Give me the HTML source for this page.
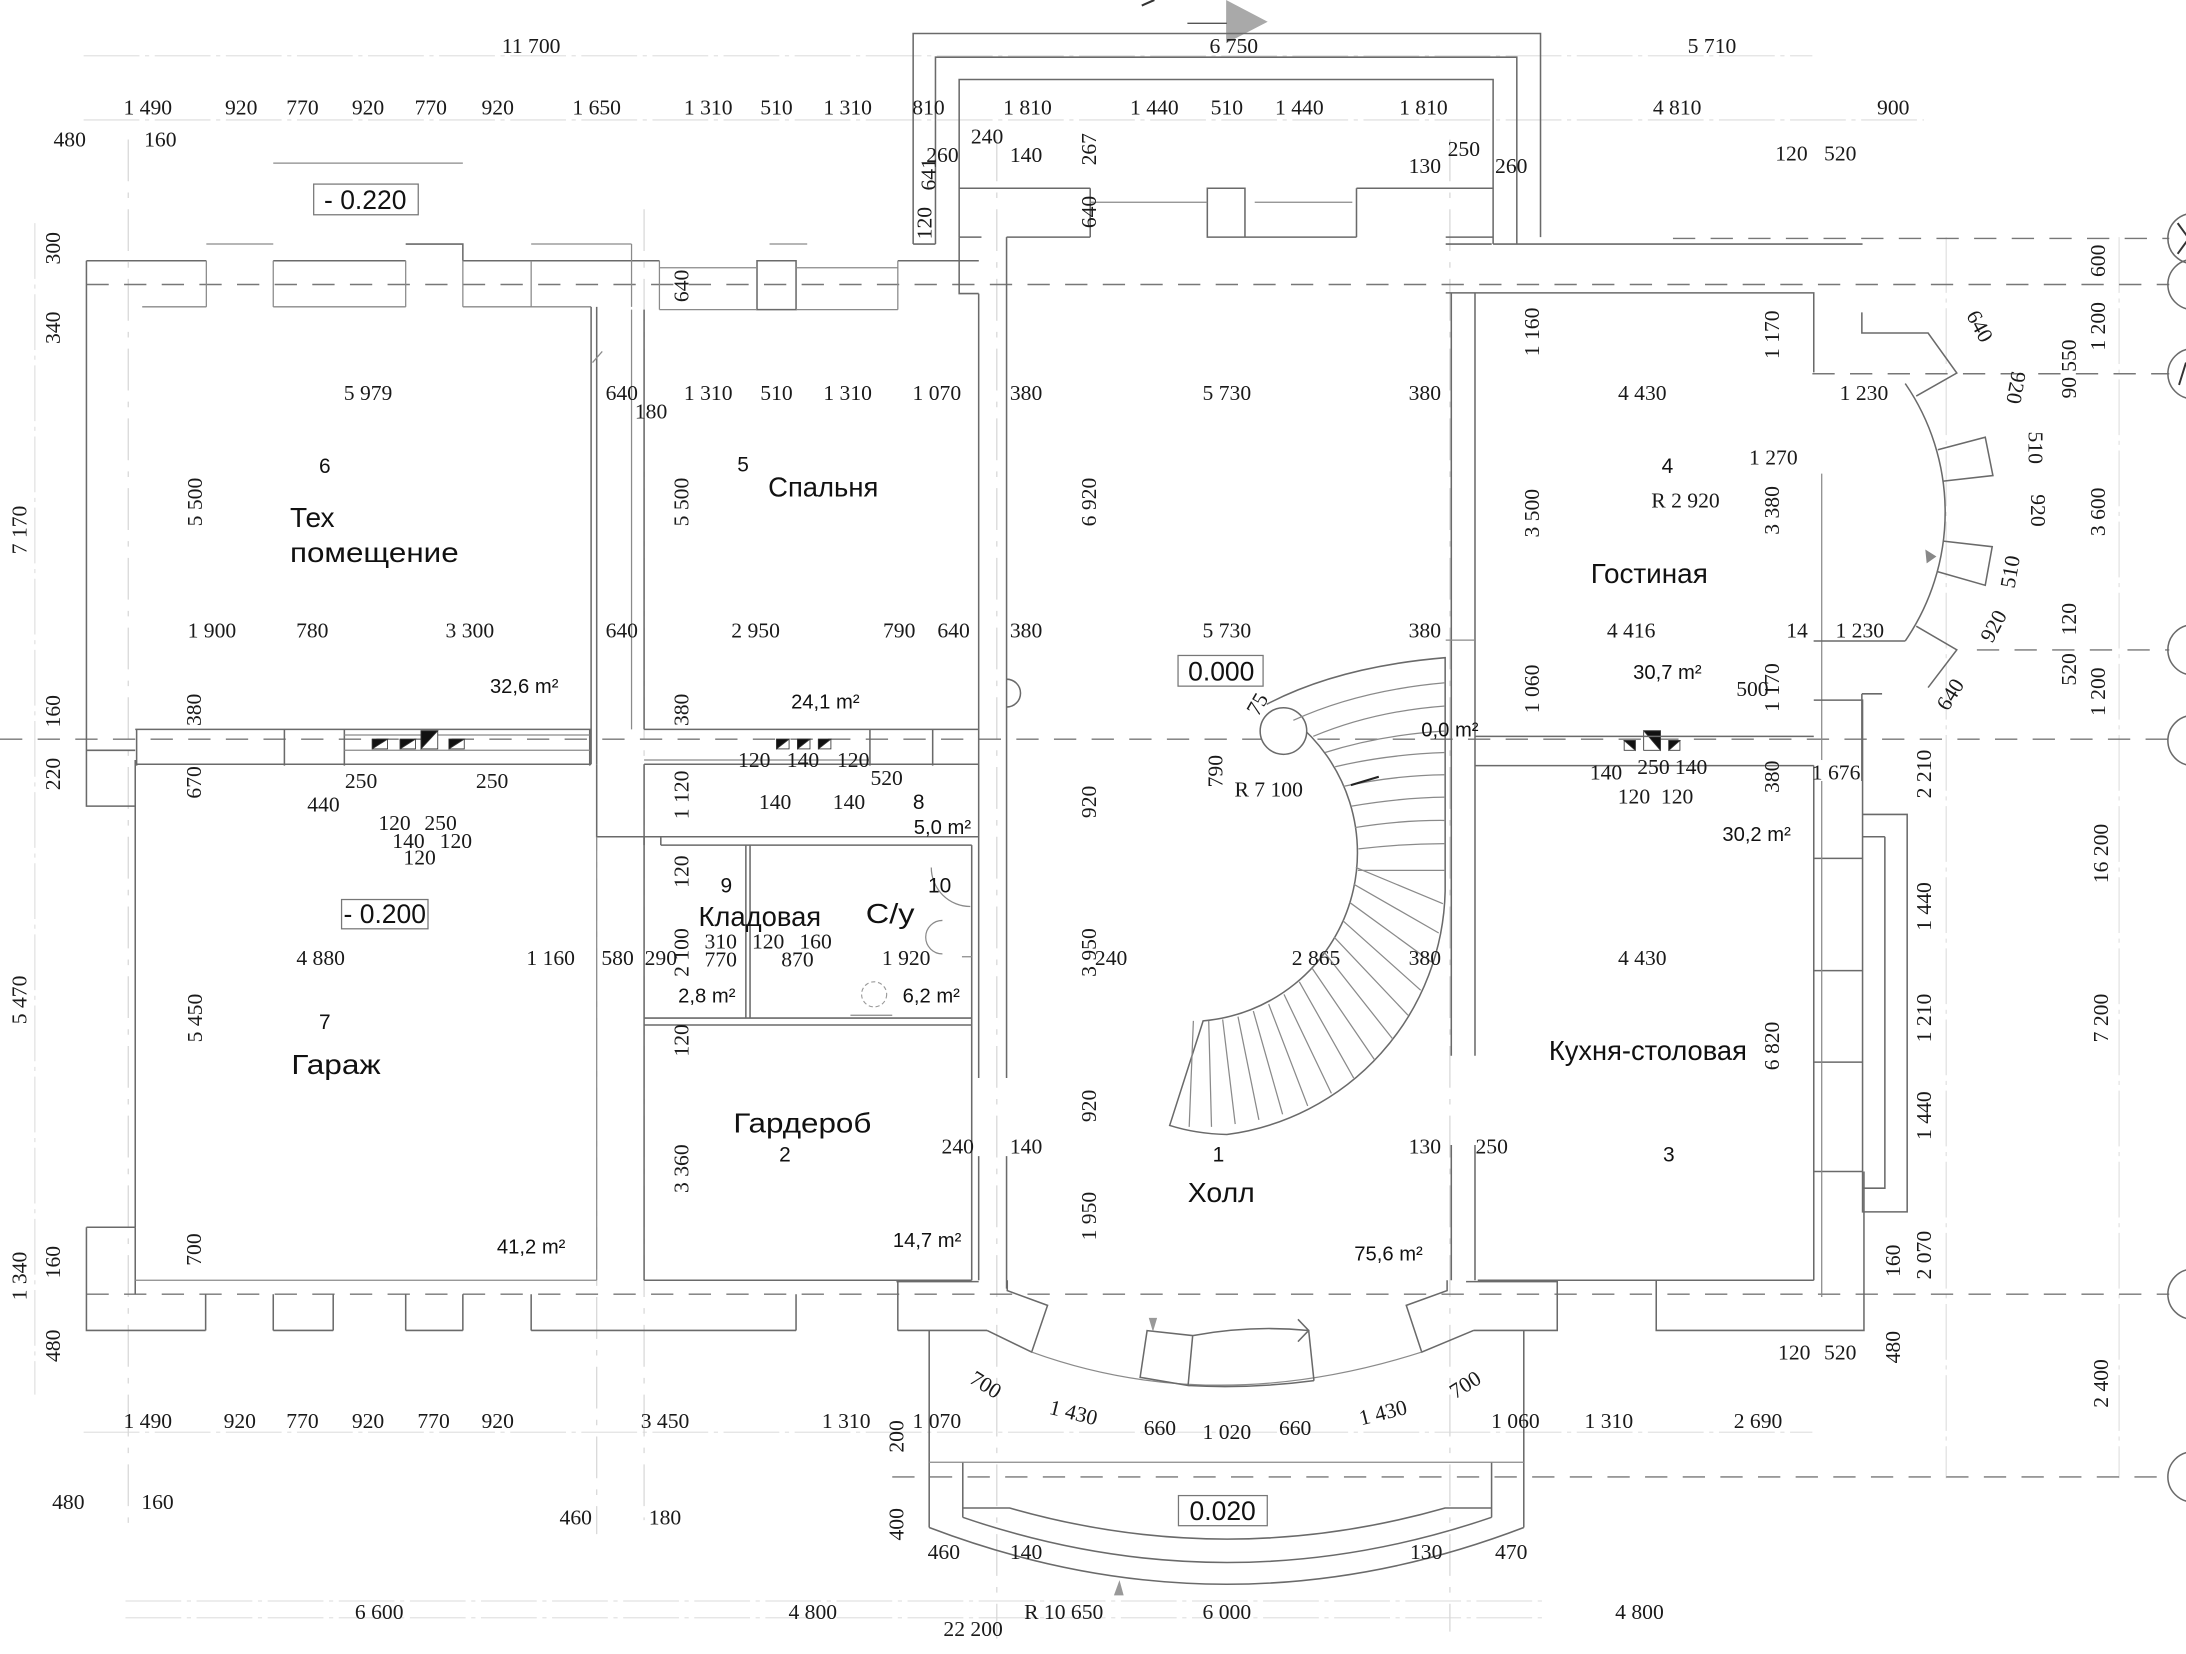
<!DOCTYPE html>
<html><head><meta charset="utf-8"><style>
html,body{margin:0;padding:0;background:#fff}
svg{display:block}
.d{font-family:"Liberation Serif",serif;font-size:15.5px;fill:#1a1a1a;text-anchor:middle}
.r{font-family:"Liberation Sans",sans-serif;font-size:20px;fill:#111}
.a{font-family:"Liberation Sans",sans-serif;font-size:14.5px;fill:#111;text-anchor:middle}
.n{font-family:"Liberation Sans",sans-serif;font-size:15px;fill:#111;text-anchor:middle}
.lv{font-family:"Liberation Sans",sans-serif;font-size:19px;fill:#111;text-anchor:middle}
.w{fill:none;stroke:#6a6a6a;stroke-width:1.1}
.t{fill:none;stroke:#8a8a8a;stroke-width:0.9}
.f{fill:none;stroke:#e2e2e2;stroke-width:0.9;stroke-dasharray:40 4 3 4}
.ax{fill:none;stroke:#777;stroke-width:1;stroke-dasharray:16 11}
.ax2{fill:none;stroke:#d8d8d8;stroke-width:0.9;stroke-dasharray:30 8 4 8}
</style></head><body>
<svg width="2186" height="1654" viewBox="0 0 1568 1186" preserveAspectRatio="none" xmlns="http://www.w3.org/2000/svg">
<rect width="1568" height="1186" fill="#fff"/>

<!-- faint dimension lines -->
<path class="f" d="M60 40H1300M60 86H1380M60 1027H1300M90 1160H1110M25 160V1000M1520 170V1060M1396 170V1060"/>
<!-- faint vertical axes -->
<path class="ax2" d="M92 100V1100M715 100V1175M1040 100V1170M462 150V1090M428 280V1100"/>

<!-- axis dashed lines -->
<path class="ax" d="M1200 171H1556M62 204H1556M1300 268H1556M1418 466H1556M0 530H1556M62 928H1556M640 1059H1556"/>
<path class="f" d="M90 1148H1110"/>

<!-- right edge circles -->
<g class="w">
<circle cx="1573" cy="171" r="18"/><circle cx="1573" cy="204" r="18"/><circle cx="1573" cy="268" r="18"/>
<circle cx="1573" cy="466" r="18"/><circle cx="1573" cy="531" r="18"/><circle cx="1573" cy="928" r="18"/><circle cx="1573" cy="1059" r="18"/>
</g>
<path d="M1562 160L1570 171L1562 182M1563 276L1568 260" stroke="#333" stroke-width="1.4" fill="none"/>

<!-- top arrow -->
<polygon points="879.5,0 909.3,15.6 879.5,31" fill="#a9a9a9"/>
<path d="M851.7 16.7H880" stroke="#555" stroke-width="1"/>
<path d="M819 4L828 0" stroke="#333" stroke-width="1.5"/>

<!-- TOP PORCH -->
<path class="w" d="M655 175V24H1105V170M671 175V41H1088V175M688 170V57H1071V175M655 175H671"/>
<path class="w" d="M688 135H782M973 135H1071M866 135H893V170H866ZM782 135V170M973 135V170M688 170H704M722 170H782M893 170H973M1071 175H1336M1037 170H1071"/>
<path class="t" d="M782 145H866M900 145H970"/>

<!-- LEFT WING top wall -->
<path class="w" d="M62 187H148M196 187H291M291 175H332V187M332 187H381M381 187H473M543 187H571V222H543ZM644 187H702M62 187V578H97V545M97 578V880"/>
<path class="t" d="M148 175H196M148 187V220M196 187V220M291 187V220M332 187V220M381 187V220M453 175V220M196 117H332M381 175H453M552 175H579M473 187V222M473 222H543M571 222H644M644 187V222M102 220H148M196 220H291M332 220H424"/>
<path class="t" d="M473 192H543M571 192H644"/>
<!-- column at hall top left -->
<path class="w" d="M688 170V210.5H702M702 210.5V773M722 170V773M702 829V918M722 829V924M688 187H702"/>

<!-- tech/bedroom partition -->
<path class="w" d="M424 220V548M428 220V548M462 222V523"/>
<path class="t" d="M453 222V523M425 260L432 252"/>

<!-- middle horizontal wall -->
<path class="w" d="M97 523H424M462 523H702M62 538H97M97 548H424M462 548H702M428 548V600H462M462 548V606M98 523V549M204 523V549M247 523V549M423 523V549M624 523V549M669 523V549"/>
<path class="t" d="M247 527H423M247 538H423M462 545H624"/>
<!-- vents -->
<g fill="#111" stroke="#333" stroke-width="0.6">
<rect x="267" y="530" width="11" height="7" fill="#fff"/><polygon points="267,537 278,530 267,530"/>
<rect x="287" y="530" width="11" height="7" fill="#fff"/><polygon points="287,537 298,530 287,530"/>
<rect x="302" y="524" width="12" height="13" fill="#fff"/><polygon points="302,537 314,524 302,524"/>
<rect x="322" y="530" width="11" height="7" fill="#fff"/><polygon points="322,537 333,530 322,530"/>
<rect x="557" y="530" width="9" height="7" fill="#fff"/><polygon points="557,537 566,530 557,530"/>
<rect x="572" y="530" width="9" height="7" fill="#fff"/><polygon points="572,537 581,530 572,530"/>
<rect x="587" y="530" width="9" height="7" fill="#fff"/><polygon points="587,537 596,530 587,530"/>
<rect x="1165" y="531" width="8" height="7" fill="#fff"/><polygon points="1165,531 1173,538 1173,531"/>
<rect x="1179" y="524" width="12" height="14" fill="#fff"/><polygon points="1179,524 1191,538 1191,524"/>
<rect x="1197" y="531" width="8" height="7" fill="#fff"/><polygon points="1197,538 1205,531 1197,531"/>
</g>
<!-- semicircle at hall left -->
<path class="w" d="M722 487A10 10 0 0 1 722 507"/>

<!-- corridor 8, rooms 9/10, garderobe -->
<path class="w" d="M462 600H702M474 606H697M462 600V918M535 606V730M538 606V730M462 730H697M462 735H697M462 918H697M697 606V918M474 600V606"/>
<path class="t" d="M428 600V918"/>
<circle cx="627" cy="713" r="9" fill="none" stroke="#999" stroke-width="0.8" stroke-dasharray="3 2"/>
<path class="t" d="M668 622A28 28 0 0 0 696 650M676 660A12 12 0 0 0 676 684M690 686H697M610 728H640"/>

<!-- garage bottom wall -->
<path class="w" d="M62 880H97M62 880V954H147.5M196 954H239M291 954H332M381 954H571M644 954H708M147.5 928V954M196 928V954M239 928V954M291 928V954M332 928V954M381 928V954M571 928V954M644 919V954M643 919H702M97 880V928"/>
<path class="t" d="M97 918H428"/>

<!-- entry bay -->
<path class="w" d="M708 954L740 969.5L751.4 936L722.5 925.4V918M1057 954L1019.8 969.5L1008.7 936L1038 925.4V918M1051.6 919H1117V954H1057M1188 918V954H1337V840"/>
<path class="t" d="M740 969.5Q871 1017 1019.8 969.5"/>
<path class="w" d="M822.8 954.1L855.5 957.7L852.2 993.5L817.8 987.6ZM855.5 957.7Q897 950 938.7 954L942.5 990M852.2 993.5Q897 996 942.5 990M931 946L938.7 954L931 962"/>
<polygon points="824,945 830,945 827,955" fill="#999"/>

<!-- bottom porch steps -->
<path class="w" d="M666.5 954V1095.3M1093 954V1095.3M690.6 1048.5V1088M1069.9 1048.5V1088M690.6 1081.3H724.2Q880 1125.9 1036.6 1081.3H1069.9M690.6 1088Q880 1152.8 1069.9 1088M666.5 1095.3Q880 1176.7 1093 1095.3"/>
<path class="t" d="M666.5 1048.5H1093"/>
<polygon points="799,1144 806,1144 803,1133" fill="#999"/>
<rect x="845.3" y="1072.4" width="63.7" height="21.6" fill="#fff" stroke="#777" stroke-width="0.9"/>

<!-- HALL right wall / living / kitchen -->
<path class="w" d="M1041 210V757M1058 210V757M1041 821V918M1058 821V918M1037 210H1301V267M1037 175H1070M1058 528H1301M1058 549H1301M1060 918H1301M1301 549V918"/>
<path class="t" d="M1037 459H1058M1306.7 339.6V545"/>
<!-- living bay -->
<path class="w" d="M1335.5 224V238.8H1383L1403.6 267.5L1374.5 284M1366.6 275A163 163 0 0 1 1366.6 459.6M1300.9 459.6H1366.6M1374.5 449L1403.6 466L1383 493M1335.5 497.5H1350M1335.5 497.5V560"/>
<path class="w" d="M1390 322.5L1424 313.5L1429.5 341L1394 345M1394 388L1429 392L1424 419.7L1390 410"/>
<polygon points="1381,394 1389,399 1382,404" fill="#888"/>
<!-- kitchen right wall / window -->
<path class="w" d="M1301 502H1336V615.5H1301M1301 696H1336V761.6H1301M1301 840H1336M1336 584H1368V869H1336ZM1352 600V852H1336M1352 600H1336"/>
<path class="t" d="M1306.7 560V930"/>

<!-- STAIRCASE -->
<path class="w" d="M927.7 516.5A121 121 0 0 1 863 732L839 807Q858 813 880 813.5A180 180 0 0 0 1036.6 639V471.6Q960 478 908.6 505"/>
<circle cx="920.6" cy="524.2" r="16.7" fill="#fff" stroke="#6a6a6a" stroke-width="1.1"/>
<path class="t" d="M1036.6 489.6Q975 495 927.7 516.5M1036.6 506.2Q985 510 942 528M1036.6 524.2Q990 527 950.5 539.6M1036.6 539.6Q995 541 957.7 549.8M1036.6 555.5Q1000 556 963.6 563.9M1036.6 571.6Q1005 572 969.6 578M1036.6 588.3Q1005 588 972 593.4M1036.6 604.9Q1005 605 974.4 608.7M1036.6 624.1H974"/>
<path class="t" d="M972.5 622L1035 648M971 634L1032 669M968 647L1027 690M963 660L1019 710M957 672L1010 728M950 683L999 745M941 694L986 760M932 704L971 773M921 713L955 784M910 720L938 793M899 725L920 799M888 729L903 803M877 731L886 806M867 732L869 808M856 732L853 808"/>
<path d="M969 563L989 557" stroke="#222" stroke-width="1.5"/>

<!-- level boxes -->
<rect x="225" y="132" width="75" height="22" fill="#fff" stroke="#777" stroke-width="0.9"/>
<rect x="245" y="645" width="62" height="21" fill="#fff" stroke="#777" stroke-width="0.9"/>
<rect x="845" y="470" width="61" height="22" fill="#fff" stroke="#777" stroke-width="0.9"/>
<text class="lv" x="262" y="150">- 0.220</text>
<text class="lv" x="276" y="662">- 0.200</text>
<text class="lv" x="876" y="488">0.000</text>
<text class="lv" x="877" y="1090">0.020</text>

<!-- ROOM NAMES -->
<text class="r" x="208" y="378" textLength="32" lengthAdjust="spacingAndGlyphs">Тех</text>
<text class="r" x="208" y="403" textLength="121" lengthAdjust="spacingAndGlyphs">помещение</text>
<text class="r" x="551" y="356" textLength="79" lengthAdjust="spacingAndGlyphs">Спальня</text>
<text class="r" x="1141" y="418" textLength="84" lengthAdjust="spacingAndGlyphs">Гостиная</text>
<text class="r" x="209" y="770" textLength="64" lengthAdjust="spacingAndGlyphs">Гараж</text>
<text class="r" x="501" y="664" textLength="88" lengthAdjust="spacingAndGlyphs">Кладовая</text>
<text class="r" x="621" y="662" textLength="35" lengthAdjust="spacingAndGlyphs">С/у</text>
<text class="r" x="526" y="812" textLength="99" lengthAdjust="spacingAndGlyphs">Гардероб</text>
<text class="r" x="852" y="862" textLength="48" lengthAdjust="spacingAndGlyphs">Холл</text>
<text class="r" x="1111" y="760" textLength="142" lengthAdjust="spacingAndGlyphs">Кухня-столовая</text>

<!-- room numbers -->
<g class="n">
<text x="233" y="339">6</text><text x="533" y="338">5</text><text x="1196" y="339">4</text>
<text x="659" y="580">8</text><text x="521" y="640">9</text><text x="674" y="640">10</text>
<text x="233" y="738">7</text><text x="563" y="833">2</text><text x="874" y="833">1</text><text x="1197" y="833">3</text>
</g>
<!-- areas -->
<g class="a">
<text x="376" y="497">32,6 m²</text><text x="592" y="508">24,1 m²</text><text x="1196" y="487">30,7 m²</text>
<text x="1040" y="528">0,0 m²</text><text x="676" y="598">5,0 m²</text><text x="1260" y="603">30,2 m²</text>
<text x="507" y="719">2,8 m²</text><text x="668" y="719">6,2 m²</text><text x="381" y="899">41,2 m²</text>
<text x="665" y="894">14,7 m²</text><text x="996" y="904">75,6 m²</text>
</g>

<!-- DIMENSIONS horizontal -->
<g class="d">
<text x="381" y="38">11 700</text><text x="885" y="38">6 750</text><text x="1228" y="38">5 710</text>
<text x="106" y="82">1 490</text><text x="173" y="82">920</text><text x="217" y="82">770</text><text x="264" y="82">920</text><text x="309" y="82">770</text><text x="357" y="82">920</text><text x="428" y="82">1 650</text><text x="508" y="82">1 310</text><text x="557" y="82">510</text><text x="608" y="82">1 310</text><text x="666" y="82">810</text><text x="737" y="82">1 810</text><text x="828" y="82">1 440</text><text x="880" y="82">510</text><text x="932" y="82">1 440</text><text x="1021" y="82">1 810</text><text x="1203" y="82">4 810</text><text x="1358" y="82">900</text>
<text x="50" y="105">480</text><text x="115" y="105">160</text>
<text x="676" y="116">260</text><text x="708" y="103">240</text><text x="736" y="116">140</text>
<text x="1022" y="124">130</text><text x="1050" y="112">250</text><text x="1084" y="124">260</text>
<text x="1285" y="115">120</text><text x="1320" y="115">520</text>
<text x="264" y="287">5 979</text><text x="446" y="287">640</text><text x="467" y="300">180</text><text x="508" y="287">1 310</text><text x="557" y="287">510</text><text x="608" y="287">1 310</text><text x="672" y="287">1 070</text><text x="736" y="287">380</text><text x="880" y="287">5 730</text><text x="1022" y="287">380</text><text x="1178" y="287">4 430</text><text x="1337" y="287">1 230</text>
<text x="1272" y="333">1 270</text><text x="1209" y="364">R 2 920</text>
<text x="152" y="457">1 900</text><text x="224" y="457">780</text><text x="337" y="457">3 300</text><text x="446" y="457">640</text><text x="542" y="457">2 950</text><text x="645" y="457">790</text><text x="684" y="457">640</text><text x="736" y="457">380</text><text x="880" y="457">5 730</text><text x="1022" y="457">380</text><text x="1170" y="457">4 416</text><text x="1289" y="457">14</text><text x="1334" y="457">1 230</text>
<text x="1257" y="499">500</text>
<text x="541" y="550">120</text><text x="576" y="550">140</text><text x="612" y="550">120</text><text x="636" y="563">520</text>
<text x="259" y="565">250</text><text x="353" y="565">250</text><text x="232" y="582">440</text>
<text x="283" y="595">120</text><text x="316" y="595">250</text><text x="293" y="608">140</text><text x="327" y="608">120</text><text x="301" y="620">120</text>
<text x="556" y="580">140</text><text x="609" y="580">140</text>
<text x="910" y="571">R 7 100</text>
<text x="1152" y="559">140</text><text x="1186" y="555">250</text><text x="1213" y="555">140</text><text x="1172" y="576">120</text><text x="1203" y="576">120</text>
<text x="1317" y="559">1 676</text>
<text x="517" y="680">310</text><text x="551" y="680">120</text><text x="585" y="680">160</text>
<text x="230" y="692">4 880</text><text x="395" y="692">1 160</text><text x="443" y="692">580</text><text x="474" y="692">290</text><text x="517" y="693">770</text><text x="572" y="693">870</text><text x="650" y="692">1 920</text><text x="797" y="692">240</text><text x="944" y="692">2 865</text><text x="1022" y="692">380</text><text x="1178" y="692">4 430</text>
<text x="687" y="827">240</text><text x="736" y="827">140</text><text x="1022" y="827">130</text><text x="1070" y="827">250</text>
<text x="1287" y="975">120</text><text x="1320" y="975">520</text>
<text x="832" y="1029">660</text><text x="880" y="1032">1 020</text><text x="929" y="1029">660</text>
<text x="106" y="1024">1 490</text><text x="172" y="1024">920</text><text x="217" y="1024">770</text><text x="264" y="1024">920</text><text x="311" y="1024">770</text><text x="357" y="1024">920</text><text x="477" y="1024">3 450</text><text x="607" y="1024">1 310</text><text x="672" y="1024">1 070</text><text x="1087" y="1024">1 060</text><text x="1154" y="1024">1 310</text><text x="1261" y="1024">2 690</text>
<text x="49" y="1082">480</text><text x="113" y="1082">160</text><text x="413" y="1093">460</text><text x="477" y="1093">180</text>
<text x="677" y="1118">460</text><text x="736" y="1118">140</text><text x="1023" y="1118">130</text><text x="1084" y="1118">470</text>
<text x="272" y="1161">6 600</text><text x="583" y="1161">4 800</text><text x="763" y="1161">R 10 650</text><text x="880" y="1161">6 000</text><text x="1176" y="1161">4 800</text>
<text x="698" y="1173">22 200</text>
</g>

<!-- angled texts -->
<g class="d">
<text transform="translate(707 993) rotate(32)" dy="5">700</text>
<text transform="translate(770 1013) rotate(14)" dy="5">1 430</text>
<text transform="translate(992 1013) rotate(-14)" dy="5">1 430</text>
<text transform="translate(1051 993) rotate(-32)" dy="5">700</text>
<text transform="translate(902 505) rotate(-60)" dy="5">75</text>
<text transform="translate(1420 234) rotate(62)" dy="5">640</text>
<text transform="translate(1446 278) rotate(100)" dy="5">920</text>
<text transform="translate(1460 321) rotate(90)" dy="5">510</text>
<text transform="translate(1462 366) rotate(90)" dy="5">920</text>
<text transform="translate(1442 410) rotate(-80)" dy="5">510</text>
<text transform="translate(1430 449) rotate(-62)" dy="5">920</text>
<text transform="translate(1399 498) rotate(-58)" dy="5">640</text>
</g>

<!-- vertical texts -->
<g class="d">
<text transform="translate(38 178) rotate(-90)" dy="5">300</text>
<text transform="translate(38 235) rotate(-90)" dy="5">340</text>
<text transform="translate(14 380) rotate(-90)" dy="5">7 170</text>
<text transform="translate(38 510) rotate(-90)" dy="5">160</text>
<text transform="translate(38 555) rotate(-90)" dy="5">220</text>
<text transform="translate(14 717) rotate(-90)" dy="5">5 470</text>
<text transform="translate(14 915) rotate(-90)" dy="5">1 340</text>
<text transform="translate(38 905) rotate(-90)" dy="5">160</text>
<text transform="translate(38 965) rotate(-90)" dy="5">480</text>
<text transform="translate(666 125) rotate(-90)" dy="5">641</text>
<text transform="translate(663 160) rotate(-90)" dy="5">120</text>
<text transform="translate(781 107) rotate(-90)" dy="5">267</text>
<text transform="translate(781 152) rotate(-90)" dy="5">640</text>
<text transform="translate(489 205) rotate(-90)" dy="5">640</text>
<text transform="translate(140 360) rotate(-90)" dy="5">5 500</text>
<text transform="translate(489 360) rotate(-90)" dy="5">5 500</text>
<text transform="translate(781 360) rotate(-90)" dy="5">6 920</text>
<text transform="translate(1099 238) rotate(-90)" dy="5">1 160</text>
<text transform="translate(1271 240) rotate(-90)" dy="5">1 170</text>
<text transform="translate(1099 368) rotate(-90)" dy="5">3 500</text>
<text transform="translate(1271 366) rotate(-90)" dy="5">3 380</text>
<text transform="translate(139 509) rotate(-90)" dy="5">380</text>
<text transform="translate(489 509) rotate(-90)" dy="5">380</text>
<text transform="translate(1099 494) rotate(-90)" dy="5">1 060</text>
<text transform="translate(1271 493) rotate(-90)" dy="5">1 170</text>
<text transform="translate(139 561) rotate(-90)" dy="5">670</text>
<text transform="translate(489 570) rotate(-90)" dy="5">1 120</text>
<text transform="translate(781 575) rotate(-90)" dy="5">920</text>
<text transform="translate(872 553) rotate(-90)" dy="5">790</text>
<text transform="translate(1271 557) rotate(-90)" dy="5">380</text>
<text transform="translate(1380 555) rotate(-90)" dy="5">2 210</text>
<text transform="translate(489 625) rotate(-90)" dy="5">120</text>
<text transform="translate(1380 650) rotate(-90)" dy="5">1 440</text>
<text transform="translate(489 683) rotate(-90)" dy="5">2 100</text>
<text transform="translate(781 683) rotate(-90)" dy="5">3 950</text>
<text transform="translate(140 730) rotate(-90)" dy="5">5 450</text>
<text transform="translate(489 746) rotate(-90)" dy="5">120</text>
<text transform="translate(1380 730) rotate(-90)" dy="5">1 210</text>
<text transform="translate(1271 750) rotate(-90)" dy="5">6 820</text>
<text transform="translate(1507 730) rotate(-90)" dy="5">7 200</text>
<text transform="translate(1507 612) rotate(-90)" dy="5">16 200</text>
<text transform="translate(781 793) rotate(-90)" dy="5">920</text>
<text transform="translate(1380 800) rotate(-90)" dy="5">1 440</text>
<text transform="translate(489 838) rotate(-90)" dy="5">3 360</text>
<text transform="translate(781 872) rotate(-90)" dy="5">1 950</text>
<text transform="translate(139 896) rotate(-90)" dy="5">700</text>
<text transform="translate(1358 904) rotate(-90)" dy="5">160</text>
<text transform="translate(1380 900) rotate(-90)" dy="5">2 070</text>
<text transform="translate(1358 966) rotate(-90)" dy="5">480</text>
<text transform="translate(1507 992) rotate(-90)" dy="5">2 400</text>
<text transform="translate(643 1030) rotate(-90)" dy="5">200</text>
<text transform="translate(643 1093) rotate(-90)" dy="5">400</text>
<text transform="translate(1505 187) rotate(-90)" dy="5">600</text>
<text transform="translate(1505 234) rotate(-90)" dy="5">1 200</text>
<text transform="translate(1484 255) rotate(-90)" dy="5">550</text>
<text transform="translate(1484 278) rotate(-90)" dy="5">90</text>
<text transform="translate(1505 367) rotate(-90)" dy="5">3 600</text>
<text transform="translate(1484 444) rotate(-90)" dy="5">120</text>
<text transform="translate(1484 480) rotate(-90)" dy="5">520</text>
<text transform="translate(1505 496) rotate(-90)" dy="5">1 200</text>
</g>
</svg>
</body></html>
